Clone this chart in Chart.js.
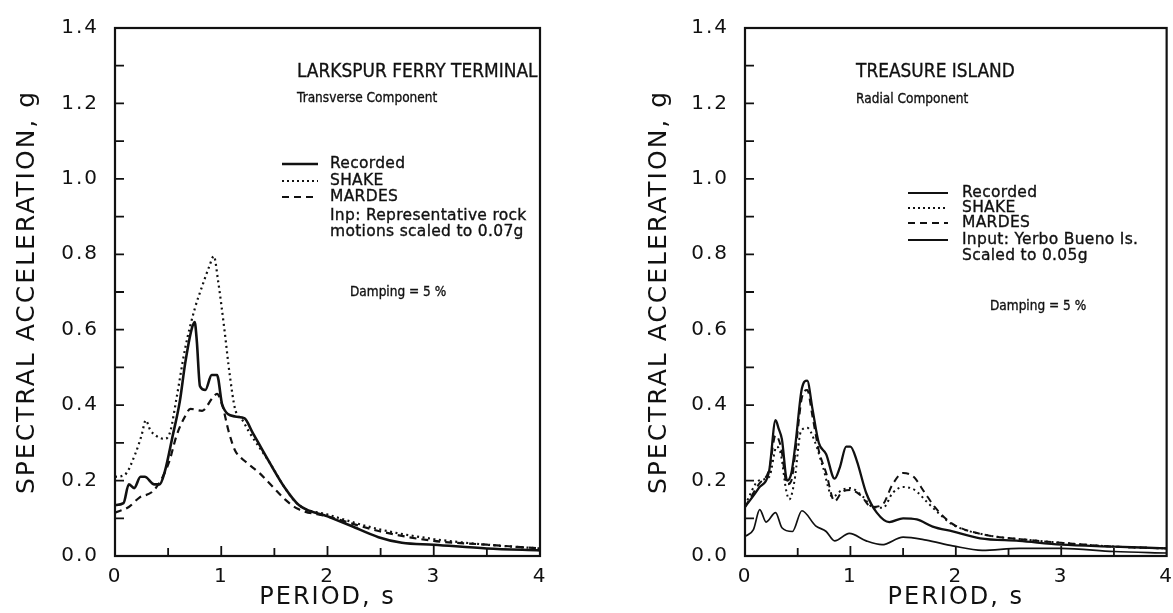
<!DOCTYPE html>
<html>
<head>
<meta charset="utf-8">
<script src="https://cdn.jsdelivr.net/npm/chart.js@4.4.0/dist/chart.umd.min.js"></script>
<style>
html,body{margin:0;padding:0;background:#fff;}
body{width:1173px;height:613px;position:relative;overflow:hidden;font-family:"DejaVu Sans",sans-serif;color:#111;}
canvas{position:absolute;top:0;}
#chartL{left:0;}
#chartR{left:585px;}
.txt{position:absolute;white-space:nowrap;transform:translateY(-50%);transform-origin:0 50%;line-height:1;-webkit-text-stroke:0.35px #111;}
.ttl{font-size:19px;transform:translateY(-50%) scaleX(0.895);}
.sub{font-size:14px;transform:translateY(-50%) scaleX(0.87);}
.leg{font-size:15.5px;letter-spacing:0.3px;}
.dmp{font-size:13.5px;transform:translateY(-50%) scaleX(0.9);}
.swatch{position:absolute;transform:translateY(-50%);}
</style>
</head>
<body>
<canvas id="chartL" width="585" height="613"></canvas>
<canvas id="chartR" width="597" height="613"></canvas>

<!-- textos do painel esquerdo -->
<div class="txt ttl" style="left:297px;top:70px;">LARKSPUR FERRY TERMINAL</div>
<div class="txt sub" style="left:297px;top:97px;">Transverse Component</div>
<svg class="swatch" style="left:282px;top:164px;" width="36" height="6"><line x1="0" y1="3" x2="36" y2="3" stroke="#111" stroke-width="2.4"/></svg>
<div class="txt leg" style="left:330px;top:164px;">Recorded</div>
<svg class="swatch" style="left:282px;top:181px;" width="36" height="6"><line x1="0" y1="3" x2="36" y2="3" stroke="#111" stroke-width="2" stroke-dasharray="2 3"/></svg>
<div class="txt leg" style="left:330px;top:181px;">SHAKE</div>
<svg class="swatch" style="left:282px;top:197px;" width="36" height="6"><line x1="0" y1="3" x2="36" y2="3" stroke="#111" stroke-width="2" stroke-dasharray="7 5"/></svg>
<div class="txt leg" style="left:330px;top:197px;">MARDES</div>
<div class="txt leg" style="left:330px;top:216px;">Inp: Representative rock</div>
<div class="txt leg" style="left:330px;top:232px;">motions scaled to 0.07g</div>
<div class="txt dmp" style="left:350px;top:292px;">Damping = 5 %</div>

<!-- textos do painel direito -->
<div class="txt ttl" style="left:856px;top:70px;">TREASURE ISLAND</div>
<div class="txt sub" style="left:856px;top:98px;">Radial Component</div>
<svg class="swatch" style="left:908px;top:193px;" width="40" height="6"><line x1="0" y1="3" x2="40" y2="3" stroke="#111" stroke-width="2.2"/></svg>
<div class="txt leg" style="left:962px;top:193px;">Recorded</div>
<svg class="swatch" style="left:908px;top:208px;" width="40" height="6"><line x1="0" y1="3" x2="40" y2="3" stroke="#111" stroke-width="2" stroke-dasharray="2 3"/></svg>
<div class="txt leg" style="left:962px;top:208px;">SHAKE</div>
<svg class="swatch" style="left:908px;top:223px;" width="40" height="6"><line x1="0" y1="3" x2="40" y2="3" stroke="#111" stroke-width="2" stroke-dasharray="7 5"/></svg>
<div class="txt leg" style="left:962px;top:223px;">MARDES</div>
<svg class="swatch" style="left:908px;top:240px;" width="40" height="6"><line x1="0" y1="3" x2="40" y2="3" stroke="#111" stroke-width="2.2"/></svg>
<div class="txt leg" style="left:962px;top:240px;">Input: Yerbo Bueno Is.</div>
<div class="txt leg" style="left:962px;top:256px;">Scaled to 0.05g</div>
<div class="txt dmp" style="left:990px;top:306px;">Damping = 5 %</div>

<script>
// eixos
const xMajor = [0, 1, 2, 3, 4];
const xTickMarks = [0.5, 1, 1.5, 2, 2.5, 3, 3.5];
const yTickMarks = [0.1, 0.2, 0.3, 0.4, 0.5, 0.6, 0.7, 0.8, 0.9, 1.0, 1.1, 1.2, 1.3];

// Larkspur Ferry Terminal - transversal
const larkRecT = [0, 0.08, 0.13, 0.18, 0.24, 0.28, 0.37, 0.42, 0.47, 0.54, 0.61, 0.66, 0.72, 0.75, 0.77, 0.80, 0.85, 0.91, 0.96, 1.01, 1.13, 1.22, 1.29, 1.45, 1.6, 1.73, 2.0, 2.22, 2.48, 2.7, 3.0, 3.5, 4.0];
const larkRecA = [0.135, 0.14, 0.19, 0.18, 0.21, 0.21, 0.19, 0.19, 0.225, 0.315, 0.41, 0.51, 0.60, 0.62, 0.57, 0.45, 0.44, 0.48, 0.48, 0.40, 0.37, 0.365, 0.33, 0.25, 0.18, 0.135, 0.105, 0.08, 0.05, 0.035, 0.03, 0.02, 0.015];
const larkShkT = [0, 0.09, 0.19, 0.25, 0.29, 0.33, 0.38, 0.47, 0.52, 0.58, 0.66, 0.75, 0.82, 0.89, 0.93, 0.97, 1.03, 1.08, 1.13, 1.2, 1.26, 1.45, 1.6, 1.73, 2.0, 2.5, 3.0, 3.5, 4.0];
const larkShkA = [0.21, 0.215, 0.27, 0.32, 0.36, 0.335, 0.32, 0.31, 0.33, 0.42, 0.55, 0.655, 0.715, 0.77, 0.795, 0.73, 0.60, 0.48, 0.39, 0.36, 0.33, 0.25, 0.18, 0.135, 0.11, 0.07, 0.045, 0.03, 0.02];
const larkMarT = [0, 0.13, 0.23, 0.35, 0.43, 0.51, 0.58, 0.65, 0.71, 0.82, 0.92, 0.96, 1.01, 1.07, 1.13, 1.23, 1.36, 1.48, 1.6, 1.72, 2.0, 2.5, 3.0, 3.5, 4.0];
const larkMarA = [0.115, 0.13, 0.155, 0.17, 0.20, 0.25, 0.32, 0.365, 0.39, 0.385, 0.42, 0.43, 0.40, 0.33, 0.28, 0.25, 0.22, 0.185, 0.15, 0.125, 0.105, 0.065, 0.04, 0.03, 0.02];

// Treasure Island - radial
const treaRecT = [0, 0.13, 0.23, 0.29, 0.32, 0.35, 0.40, 0.44, 0.48, 0.54, 0.59, 0.64, 0.70, 0.77, 0.85, 0.90, 0.96, 1.0, 1.06, 1.15, 1.25, 1.37, 1.5, 1.63, 1.78, 1.97, 2.23, 2.6, 3.0, 3.5, 4.0];
const treaRecA = [0.13, 0.18, 0.227, 0.36, 0.337, 0.31, 0.20, 0.22, 0.30, 0.445, 0.465, 0.39, 0.30, 0.27, 0.205, 0.235, 0.29, 0.29, 0.253, 0.167, 0.115, 0.09, 0.10, 0.097, 0.078, 0.065, 0.047, 0.04, 0.03, 0.025, 0.02];
const treaShkT = [0, 0.13, 0.23, 0.30, 0.34, 0.39, 0.42, 0.47, 0.53, 0.59, 0.66, 0.74, 0.83, 0.92, 1.0, 1.12, 1.21, 1.31, 1.40, 1.5, 1.61, 1.72, 1.85, 1.97, 2.3, 2.6, 3.0, 3.5, 4.0];
const treaShkA = [0.135, 0.20, 0.21, 0.29, 0.27, 0.175, 0.15, 0.20, 0.33, 0.34, 0.305, 0.235, 0.157, 0.175, 0.18, 0.157, 0.13, 0.128, 0.167, 0.183, 0.175, 0.145, 0.11, 0.083, 0.055, 0.045, 0.035, 0.025, 0.02];
const treaMarT = [0, 0.13, 0.23, 0.29, 0.34, 0.40, 0.44, 0.48, 0.54, 0.59, 0.64, 0.70, 0.77, 0.85, 0.92, 1.0, 1.1, 1.2, 1.3, 1.4, 1.5, 1.6, 1.7, 1.8, 1.9, 2.0, 2.3, 2.6, 3.0, 3.5, 4.0];
const treaMarA = [0.13, 0.19, 0.23, 0.32, 0.29, 0.19, 0.20, 0.28, 0.42, 0.44, 0.37, 0.28, 0.22, 0.145, 0.17, 0.175, 0.16, 0.13, 0.135, 0.19, 0.22, 0.21, 0.17, 0.13, 0.10, 0.08, 0.055, 0.045, 0.035, 0.025, 0.02];
const treaInpT = [0, 0.08, 0.14, 0.2, 0.29, 0.35, 0.45, 0.54, 0.67, 0.77, 0.85, 0.99, 1.15, 1.3, 1.5, 1.72, 1.97, 2.25, 2.6, 3.0, 3.5, 4.0];
const treaInpA = [0.052, 0.07, 0.123, 0.09, 0.115, 0.075, 0.065, 0.12, 0.08, 0.065, 0.04, 0.06, 0.04, 0.03, 0.05, 0.042, 0.027, 0.015, 0.02, 0.02, 0.012, 0.008];

const INK = '#111';

function pts(t, a){ return t.map((p, i) => ({ x: p, y: a[i] })); }

function serie(t, a, width, dash){
  return {
    data: pts(t, a),
    borderColor: INK,
    borderWidth: width,
    borderDash: dash || [],
    pointRadius: 0,
    fill: false,
    cubicInterpolationMode: 'monotone'
  };
}

// letras mais espaçadas, como o traçador original
const espaco = {
  id: 'espaco',
  beforeDraw(chart){ chart.ctx.letterSpacing = '2px'; },
  afterDraw(chart){ chart.ctx.letterSpacing = '0px'; }
};

// moldura + marcas de escala para dentro
const moldura = {
  id: 'moldura',
  afterDatasetsDraw(chart){
    const { ctx, chartArea: a, scales: { x, y } } = chart;
    ctx.save();
    ctx.strokeStyle = INK;
    ctx.lineWidth = 2.2;
    ctx.strokeRect(a.left, a.top, a.right - a.left, a.bottom - a.top);
    ctx.lineWidth = 1.8;
    ctx.beginPath();
    yTickMarks.forEach(v => {
      const py = y.getPixelForValue(v);
      ctx.moveTo(a.left, py); ctx.lineTo(a.left + 9, py);
    });
    xTickMarks.forEach(v => {
      const px = x.getPixelForValue(v);
      const len = Number.isInteger(v) ? 10 : 8;
      ctx.moveTo(px, a.bottom); ctx.lineTo(px, a.bottom - len);
    });
    ctx.stroke();
    ctx.restore();
  }
};

function makeChart(id, datasets, pad, yWidth){
  return new Chart(document.getElementById(id), {
    type: 'line',
    data: { datasets },
    options: {
      responsive: false,
      animation: false,
      events: [],
      layout: { padding: pad },
      plugins: { legend: { display: false }, tooltip: { enabled: false } },
      scales: {
        x: {
          type: 'linear', min: 0, max: 4,
          afterBuildTicks: s => { s.ticks = xMajor.map(v => ({ value: v })); },
          afterFit: s => { s.height = 57; },
          grid: { display: false, drawTicks: false },
          border: { display: false },
          ticks: { color: INK, padding: 9, font: { family: 'DejaVu Sans', size: 20 } },
          title: { display: true, text: 'PERIOD, s', color: INK, padding: { top: 0, bottom: 1 }, font: { family: 'DejaVu Sans', size: 24 } }
        },
        y: {
          min: 0, max: 1.4,
          ticks: { stepSize: 0.2, color: INK, padding: 16, font: { family: 'DejaVu Sans', size: 20 }, callback: v => Number(v).toFixed(1) },
          afterFit: s => { s.width = yWidth; },
          grid: { display: false, drawTicks: false },
          border: { display: false },
          title: { display: true, text: 'SPECTRAL ACCELERATION, g', color: INK, padding: { top: 12, bottom: 0 }, font: { family: 'DejaVu Sans', size: 25 } }
        }
      }
    },
    plugins: [espaco, moldura]
  });
}

makeChart('chartL', [
  serie(larkRecT, larkRecA, 2.6),
  serie(larkShkT, larkShkA, 2.2, [2, 3.5]),
  serie(larkMarT, larkMarA, 2.2, [7, 5])
], { left: 0, right: 45, top: 18, bottom: 0 }, 115);

makeChart('chartR', [
  serie(treaRecT, treaRecA, 2.3),
  serie(treaShkT, treaShkA, 2, [2, 3.5]),
  serie(treaMarT, treaMarA, 2, [7, 5]),
  serie(treaInpT, treaInpA, 1.7)
], { left: 47, right: 0, top: 20, bottom: 0 }, 113);
</script>
</body>
</html>
